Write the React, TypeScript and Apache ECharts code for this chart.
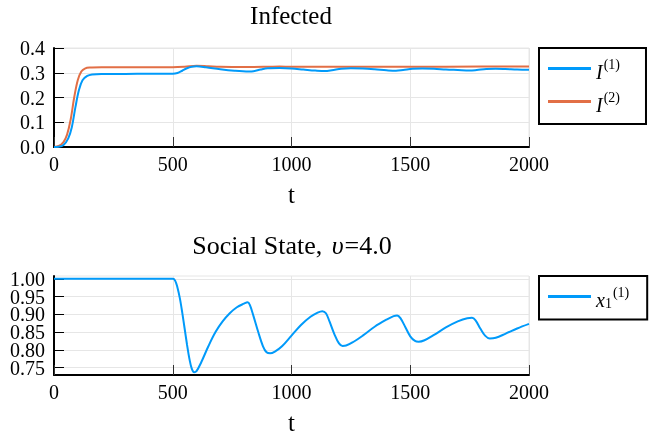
import React, { useEffect, useRef } from "react";
import * as echarts from "echarts";

// ---- data ----
const tI1 = [0, 20, 40, 60, 75, 90, 105, 120, 140, 160, 200, 300, 400, 500, 520, 540, 560, 580, 600, 640, 700, 760, 820, 840, 870, 900, 950, 1000, 1050, 1100, 1140, 1170, 1210, 1250, 1300, 1350, 1400, 1440, 1470, 1510, 1550, 1600, 1650, 1700, 1750, 1780, 1820, 1860, 1900, 1950, 2000];
const vI1 = [0, 0.001, 0.008, 0.035, 0.08, 0.16, 0.23, 0.27, 0.287, 0.293, 0.295, 0.295, 0.296, 0.296, 0.299, 0.308, 0.318, 0.324, 0.326, 0.322, 0.314, 0.308, 0.305, 0.306, 0.313, 0.318, 0.319, 0.317, 0.313, 0.309, 0.307, 0.31, 0.316, 0.318, 0.317, 0.314, 0.31, 0.308, 0.311, 0.316, 0.317, 0.316, 0.313, 0.311, 0.309, 0.311, 0.315, 0.316, 0.315, 0.313, 0.312];

const tI2 = [0, 20, 40, 55, 70, 85, 100, 115, 130, 150, 200, 300, 400, 500, 550, 600, 650, 700, 800, 900, 950, 1000, 1200, 1500, 1800, 2000];
const vI2 = [0, 0.004, 0.02, 0.05, 0.11, 0.2, 0.27, 0.305, 0.317, 0.321, 0.322, 0.322, 0.322, 0.322, 0.324, 0.328, 0.326, 0.324, 0.323, 0.324, 0.325, 0.324, 0.324, 0.324, 0.325, 0.325];

const tX = [0, 500, 510, 520, 530, 540, 550, 560, 570, 580, 590, 600, 620, 650, 680, 710, 740, 770, 800, 815, 825, 840, 860, 880, 895, 910, 930, 960, 1000, 1040, 1080, 1110, 1130, 1145, 1160, 1180, 1200, 1215, 1230, 1260, 1300, 1350, 1400, 1430, 1445, 1460, 1480, 1500, 1520, 1535, 1560, 1600, 1650, 1700, 1740, 1760, 1775, 1795, 1815, 1835, 1860, 1900, 1950, 2000];
const vX = [1.0, 1.0, 0.995, 0.975, 0.945, 0.905, 0.86, 0.815, 0.775, 0.747, 0.737, 0.74, 0.765, 0.81, 0.85, 0.88, 0.903, 0.92, 0.93, 0.934, 0.926, 0.895, 0.85, 0.81, 0.793, 0.79, 0.795, 0.81, 0.84, 0.87, 0.893, 0.905, 0.909, 0.903, 0.88, 0.845, 0.818, 0.811, 0.812, 0.822, 0.84, 0.865, 0.885, 0.895, 0.897, 0.888, 0.863, 0.838, 0.825, 0.823, 0.827, 0.842, 0.863, 0.88, 0.889, 0.89, 0.883, 0.86, 0.84, 0.832, 0.834, 0.845, 0.86, 0.873];

const xTicks = [0, 500, 1000, 1500, 2000];
const yTicksTop = [0, 0.1, 0.2, 0.3, 0.4];
const yTicksBottom = [0.75, 0.8, 0.85, 0.9, 0.95, 1.0];

const BLUE = "#009AFA";
const ORANGE = "#E26F46";
const GRID = "#e6e6e6";
const SERIF = "'Liberation Serif', 'Times New Roman', serif";

const zip = (t: number[], v: number[]) => t.map((x, i) => [x, v[i]]);

export default function App() {
  const ref = useRef<HTMLDivElement>(null);
  useEffect(() => {
    if (!ref.current) return;
    const chart = echarts.init(ref.current, undefined, { renderer: "svg" });
    const xAxisBase = (gridIndex: number) => ({
      type: "value",
      gridIndex,
      min: 0,
      max: 2000,
      interval: 500,
      name: "t",
      nameLocation: "middle",
      nameGap: 35,
      nameTextStyle: { fontFamily: SERIF, fontSize: 25, color: "#000" },
      axisLine: { show: true, onZero: false, lineStyle: { color: "#000", width: 2 } },
      axisTick: { show: true, inside: true, length: 10, lineStyle: { color: "#333", width: 1 } },
      axisLabel: {
        fontFamily: SERIF, fontSize: 20, color: "#000", margin: 7,
        customValues: xTicks, interval: 0, hideOverlap: false,
        formatter: (v: number) => String(v),
      },
      splitLine: { show: true, lineStyle: { color: GRID, width: 1 } },
    });
    const richLegend = {
      it: { fontFamily: SERIF, fontSize: 20, fontStyle: "italic", color: "#000", padding: [7, 0, 0, 0] },
      sup: { fontFamily: SERIF, fontSize: 14, color: "#000", padding: [0, 0, 9, 1] },
      sub: { fontFamily: SERIF, fontSize: 14, color: "#000", padding: [14, 0, 0, 0] },
    };
    const legendBase = {
      orient: "vertical",
      left: 539,
      padding: [9, 26, 9, 9],
      itemGap: 8,
      itemWidth: 43,
      itemHeight: 3,
      icon: "rect",
      borderColor: "#000",
      borderWidth: 2,
      borderRadius: 0,
      backgroundColor: "#fff",
      textStyle: { rich: richLegend },
    };
    const bottomLabelAxis = (values: number[], main: boolean) => ({
      type: "value",
      gridIndex: 1,
      position: "left",
      min: 0.729,
      max: 1.008,
      splitNumber: 6,
      axisLine: { show: main, onZero: false, lineStyle: { color: "#000", width: 2 } },
      axisTick: { show: main, inside: true, length: 10, customValues: yTicksBottom, lineStyle: { color: "#000", width: 1 } },
      axisLabel: {
        fontFamily: SERIF, fontSize: 20, lineHeight: 16, color: "#000", margin: 9,
        customValues: values, interval: 0, hideOverlap: false,
        formatter: (v: number) => v.toFixed(2),
      },
      splitLine: { show: main, lineStyle: { color: GRID, width: 1 } },
    });
    chart.setOption({
      animation: false,
      title: [
        {
          text: "Infected",
          left: 291,
          top: 3,
          padding: 0,
          textAlign: "center",
          textStyle: { fontFamily: SERIF, fontSize: 25, fontWeight: "normal", color: "#000" },
        },
        {
          text: "{n|Social State, }{m|υ}{n|=4.0}",
          left: 292,
          top: 232,
          padding: 0,
          textAlign: "center",
          textStyle: {
            fontFamily: SERIF, fontSize: 26, fontWeight: "normal", color: "#000",
            rich: {
              n: { fontFamily: SERIF, fontSize: 26, color: "#000" },
              m: { fontFamily: SERIF, fontSize: 26, fontStyle: "italic", color: "#000", padding: [0, 1, 0, 3] },
            },
          },
        },
      ],
      legend: [
        {
          ...legendBase,
          data: ["I1", "I2"],
          top: 48,
          formatter: (name: string) => (name === "I1" ? "{it|I}{sup|(1)}" : "{it|I}{sup|(2)}"),
        },
        {
          ...legendBase,
          data: ["x1"],
          top: 276,
          padding: [9, 18, 9, 9],
          formatter: () => "{it|x}{sub|1}{sup|(1)}",
        },
      ],
      grid: [
        { left: 54, top: 48, width: 475, height: 99, show: true, borderColor: GRID, borderWidth: 1, containLabel: false },
        { left: 54, top: 276, width: 475, height: 99, show: true, borderColor: GRID, borderWidth: 1, containLabel: false },
      ],
      xAxis: [xAxisBase(0), xAxisBase(1)],
      yAxis: [
        {
          type: "value",
          gridIndex: 0,
          min: 0,
          max: 0.4,
          interval: 0.1,
          axisLine: { show: true, onZero: false, lineStyle: { color: "#000", width: 2 } },
          axisTick: { show: true, inside: true, length: 10, lineStyle: { color: "#000", width: 1 } },
          axisLabel: {
            fontFamily: SERIF, fontSize: 20, color: "#000", margin: 9,
            customValues: yTicksTop, interval: 0, hideOverlap: false,
            formatter: (v: number) => v.toFixed(1),
          },
          splitLine: { show: true, lineStyle: { color: GRID, width: 1 } },
        },
        bottomLabelAxis(yTicksBottom.filter((_, i) => i % 2 === 1), true),
        bottomLabelAxis(yTicksBottom.filter((_, i) => i % 2 === 0), false),
      ],
      series: [
        {
          name: "I1", type: "line", xAxisIndex: 0, yAxisIndex: 0, data: zip(tI1, vI1),
          symbol: "none", smooth: 0.35, color: BLUE,
          lineStyle: { color: BLUE, width: 2 }, z: 3,
        },
        {
          name: "I2", type: "line", xAxisIndex: 0, yAxisIndex: 0, data: zip(tI2, vI2),
          symbol: "none", smooth: 0.35, color: ORANGE,
          lineStyle: { color: ORANGE, width: 2 }, z: 2,
        },
        {
          name: "x1", type: "line", xAxisIndex: 1, yAxisIndex: 1, data: zip(tX, vX),
          symbol: "none", smooth: 0.35, color: BLUE,
          lineStyle: { color: BLUE, width: 2 },
        },
      ],
    });
    return () => chart.dispose();
  }, []);
  return <div ref={ref} style={{ position: "fixed", left: 0, top: 0, width: 667, height: 441 }} />;
}
